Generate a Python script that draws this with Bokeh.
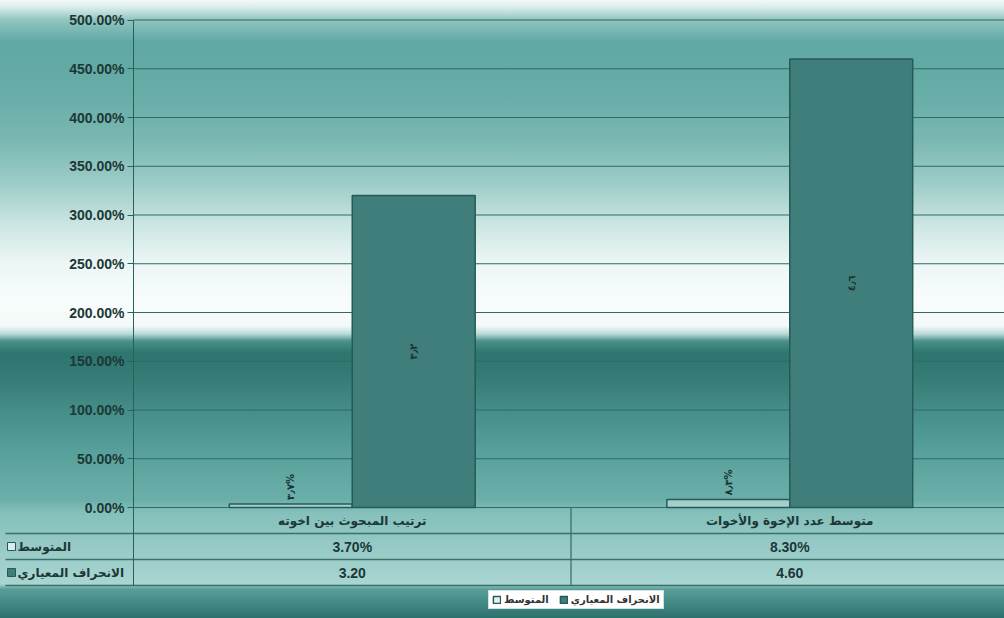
import numpy as np
from bokeh.plotting import figure
from bokeh.models import (LinearAxis, FixedTicker, NumeralTickFormatter, ColumnDataSource,
                          Range1d, Legend, LegendItem)
from bokeh.transform import dodge
from bokeh.core.properties import value
from bokeh.embed import file_html
from bokeh.resources import INLINE

# ---------------- data ----------------
categories = ["ترتيب المبحوث بين اخوته", "متوسط عدد الإخوة والأخوات"]
series_names = ["المتوسط", "الانحراف المعياري"]
mean_values = [0.037, 0.083]          # 3.70%, 8.30%
std_values = [3.20, 4.60]             # plotted on the % axis as 320%, 460%
mean_table_labels = ["3.70%", "8.30%"]
std_table_labels = ["3.20", "4.60"]
mean_bar_labels = ["٣٫٧%", "٨٫٣%"]
std_bar_labels = ["٣٫٢", "٤٫٦"]
y_ticks = [0, 0.5, 1.0, 1.5, 2.0, 2.5, 3.0, 3.5, 4.0, 4.5, 5.0]

# ---------------- layout constants ----------------
W, H = 1004, 618
X0_PX = 133          # pixel of x = 0 (value axis)
PX_X = 437.5         # pixels per category
Y0_PX = 507          # pixel (from top) of y = 0
PX_Y = 97.5          # pixels per 1.0 (100%)
ROW = 26 / PX_Y      # table row height in data units
LEFT = (5 - X0_PX) / PX_X
BW = 0.281

MEAN_FILL = "#cde6e3"
STD_FILL = "#3f7e7a"
EDGE = "#255b57"
TXT = "#1c3836"

p = figure(width=W, height=H, output_backend="svg", toolbar_location=None,
           x_range=Range1d(-X0_PX / PX_X, (W - X0_PX) / PX_X),
           y_range=Range1d(-(H - Y0_PX) / PX_Y, Y0_PX / PX_Y),
           x_axis_location=None, y_axis_location=None, min_border=0,
           background_fill_alpha=0, border_fill_alpha=0, outline_line_color=None)
p.grid.visible = False

stops = [("#f3f9f8", 0), ("#d6ebe8", 8), ("#8fc5c0", 20), ("#60a8a3", 42), ("#66aca7", 90),
         ("#7ab7b2", 140), ("#9fcdc8", 185), ("#cce6e3", 225), ("#ebf6f5", 262), ("#f9fcfc", 300),
         ("#f3f9f8", 326), ("#b8dad7", 334), ("#4a918c", 341), ("#2e746f", 353), ("#357c77", 378),
         ("#468e89", 412), ("#58a09b", 452), ("#6bafaa", 500), ("#84c0bb", 512), ("#98cbc7", 550),
         ("#a9d5d1", 584), ("#5a9e99", 589), ("#4a918c", 598), ("#2d716d", 618)]
p.styles = {"background": "linear-gradient(180deg, " +
            ", ".join(f"{c} {y}px" for c, y in stops) + ")"}

# grid lines (from the axis ticks)
xs = np.arange(len(categories)) + 0.5
p.segment(x0=0, x1=p.x_range.end, y0=y_ticks, y1=y_ticks, line_color="#2f6a66", line_width=1)

src = ColumnDataSource(dict(x=xs, mean=mean_values, std=std_values,
                            mlab=mean_bar_labels, slab=std_bar_labels,
                            smid=[v / 2 for v in std_values]))
r1 = p.vbar(x=dodge("x", -BW / 2), top="mean", bottom=0, width=BW, source=src,
            fill_color=MEAN_FILL, fill_alpha=0.55, line_color=EDGE, line_width=1.5)
r2 = p.vbar(x=dodge("x", BW / 2), top="std", bottom=0, width=BW, source=src,
            fill_color=STD_FILL, line_color=EDGE, line_width=1.5)

p.text(x=dodge("x", -BW / 2), y="mean", text="mlab", source=src, angle=np.pi / 2,
       x_offset=0, y_offset=-4, text_align="left", text_baseline="middle",
       text_font=value("DejaVu Sans"), text_font_style="bold", text_font_size="10px",
       text_color="#173331")
p.text(x=dodge("x", BW / 2), y="smid", text="slab", source=src, angle=np.pi / 2,
       text_align="center", text_baseline="middle",
       text_font=value("DejaVu Sans"), text_font_style="bold", text_font_size="10px",
       text_color="#173331")

# value axis
ax = LinearAxis(fixed_location=0, ticker=FixedTicker(ticks=y_ticks),
                formatter=NumeralTickFormatter(format="0.00%"), bounds=(-3 * ROW, 5.0))
ax.major_label_text_font = "Liberation Sans"
ax.major_label_text_font_style = "bold"
ax.major_label_text_font_size = "14px"
ax.major_label_text_color = TXT
ax.major_tick_out = 6
ax.major_tick_in = 0
ax.major_label_standoff = 3
ax.axis_line_color = "#2a5f5b"
ax.major_tick_line_color = "#2a5f5b"
ax.minor_tick_line_color = None
p.add_layout(ax, "left")

# data table
rows_y = [-(k + 0.5) * ROW for k in range(3)]
lines_y = [-(k + 1) * ROW for k in range(3)]
p.segment(x0=LEFT, x1=p.x_range.end, y0=lines_y, y1=lines_y, line_color="#3b716d", line_width=1.3)
p.segment(x0=[1], x1=[1], y0=[0], y1=[-3 * ROW], line_color="#3b716d", line_width=1.3)

p.text(x=xs, y=[rows_y[0]] * 2, text=categories, text_align="center", text_baseline="middle",
       text_font=value("DejaVu Sans"), text_font_style="bold", text_font_size="12px", text_color=TXT)
p.text(x=xs, y=[rows_y[1]] * 2, text=mean_table_labels, text_align="center", text_baseline="middle",
       text_font=value("Liberation Sans"), text_font_style="bold", text_font_size="14px", text_color=TXT)
p.text(x=xs, y=[rows_y[2]] * 2, text=std_table_labels, text_align="center", text_baseline="middle",
       text_font=value("Liberation Sans"), text_font_style="bold", text_font_size="14px", text_color=TXT)

key_x = (11 - X0_PX) / PX_X
lab_x = (17 - X0_PX) / PX_X
p.scatter(x=[key_x] * 2, y=rows_y[1:], marker="square", size=8,
          fill_color=["#d9eeeb", STD_FILL], line_color=EDGE, line_width=1)
p.text(x=[lab_x] * 2, y=rows_y[1:], text=series_names, text_align="left", text_baseline="middle",
       text_font=value("DejaVu Sans"), text_font_style="bold", text_font_size="12px", text_color=TXT)

legend = Legend(items=[LegendItem(label=series_names[0], renderers=[r1]),
                       LegendItem(label=series_names[1], renderers=[r2])],
                orientation="horizontal", location=(488, 9),
                background_fill_color="white", background_fill_alpha=1,
                border_line_color="#9fc7c4", label_text_font="DejaVu Sans",
                label_text_font_style="bold",
                label_text_font_size="10px", label_text_color="#333333",
                glyph_width=9, glyph_height=9, label_height=11, label_standoff=3,
                padding=3, spacing=10, margin=0)
p.add_layout(legend)

open("out.html", "w").write(file_html(p, INLINE))
